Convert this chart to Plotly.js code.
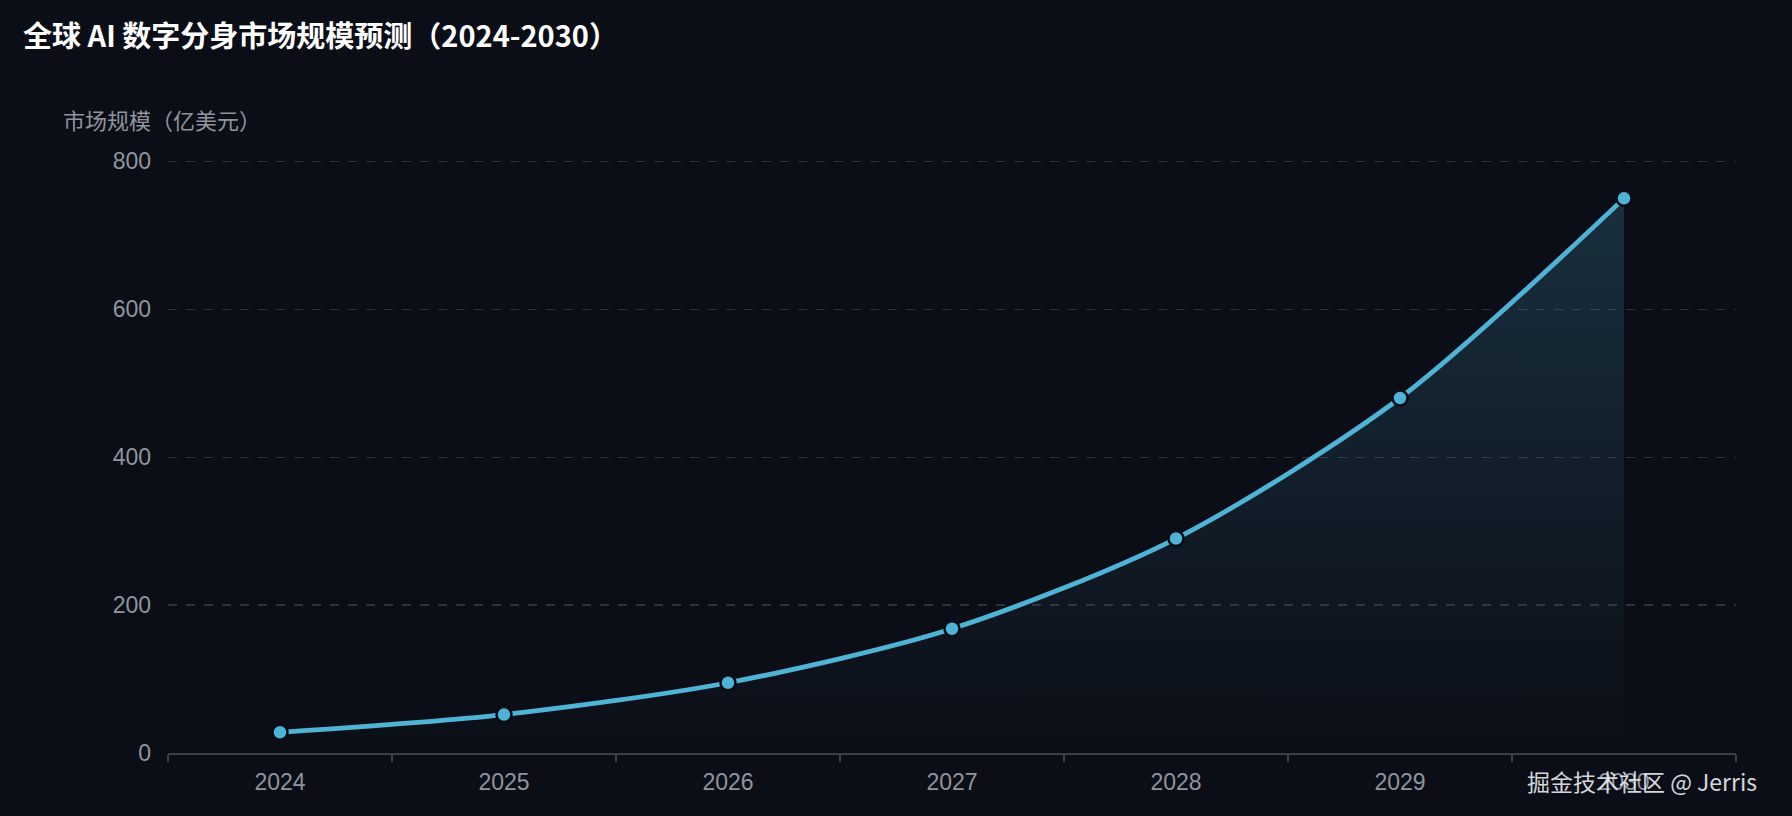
<!DOCTYPE html>
<html>
<head>
<meta charset="utf-8">
<script src="https://cdn.plot.ly/plotly-3.0.1.min.js"></script>
<style>
html,body{margin:0;padding:0;background:#0b0e17;}
#chart{width:1792px;height:816px;}
</style>
</head>
<body>
<div id="chart"></div>
<script>
const years = ['2024','2025','2026','2027','2028','2029','2030'];
const marketSize = [28, 52, 95, 168, 290, 480, 750];
const yTicks = [0, 200, 400, 600, 800];

const chartTitle = '全球 AI 数字分身市场规模预测（2024-2030）';
const yAxisName = '市场规模（亿美元）';
const watermark = '掘金技术社区 @ Jerris';

const lineColor = '#4fb3d6';
const bg = '#0b0e17';
const labelColor = '#8f949e';

const trace = {
  type: 'scatter',
  mode: 'lines+markers',
  x: years,
  y: marketSize,
  line: {color: lineColor, width: 4.8, shape: 'spline', smoothing: 0.8},
  marker: {size: 15, color: lineColor, line: {color: bg, width: 2.5}},
  fill: 'tozeroy',
  fillgradient: {
    type: 'vertical',
    colorscale: [[0, 'rgba(79,179,214,0.0)'], [1, 'rgba(79,179,214,0.2)']]
  },
  hoverinfo: 'x+y',
  cliponaxis: false
};

const layout = {
  width: 1792,
  height: 816,
  paper_bgcolor: bg,
  plot_bgcolor: bg,
  margin: {l: 168, r: 56, t: 154, b: 63},
  showlegend: false,
  title: {
    text: chartTitle,
    x: 23/1792, xanchor: 'left', xref: 'container',
    y: 1 - 37/816, yanchor: 'middle', yref: 'container',
    font: {family: '"Noto Sans CJK SC", "Noto Sans", sans-serif', size: 29, color: '#ffffff', weight: 'bold'}
  },
  xaxis: {
    type: 'category',
    range: [-0.5, 6.5],
    tickson: 'boundaries',
    ticks: 'outside',
    ticklen: 7,
    tickwidth: 1.5,
    tickcolor: '#3a3f4b',
    showline: true,
    linecolor: '#3a3f4b',
    linewidth: 1.5,
    showgrid: false,
    zeroline: false,
    tickfont: {family: '"Liberation Sans", Arial, sans-serif', size: 23, color: labelColor},
    ticklabelstandoff: 8,
    fixedrange: true
  },
  yaxis: {
    range: [0, 810],
    tickvals: yTicks,
    ticktext: yTicks.map(String),
    showgrid: true,
    gridcolor: '#2c313c',
    griddash: 'dash',
    gridwidth: 1.2,
    zeroline: false,
    showline: false,
    ticks: '',
    ticklabelstandoff: 16,
    tickfont: {family: '"Liberation Sans", Arial, sans-serif', size: 23, color: labelColor},
    fixedrange: true
  },
  annotations: [
    {
      text: yAxisName,
      xref: 'paper', yref: 'paper',
      x: (162 - 168) / 1568, y: (753 - 119) / 599,
      xanchor: 'center', yanchor: 'middle',
      showarrow: false,
      font: {family: '"Noto Sans CJK SC", sans-serif', size: 22, color: labelColor}
    },
    {
      text: watermark,
      xref: 'paper', yref: 'paper',
      x: (1642 - 168) / 1568, y: (753 - 781) / 599,
      xanchor: 'center', yanchor: 'middle',
      showarrow: false,
      font: {family: '"Noto Sans CJK SC", sans-serif', size: 23, color: 'rgba(232,235,240,0.92)'}
    }
  ]
};

Plotly.newPlot('chart', [trace], layout, {displayModeBar: false, staticPlot: true});
</script>
</body>
</html>
